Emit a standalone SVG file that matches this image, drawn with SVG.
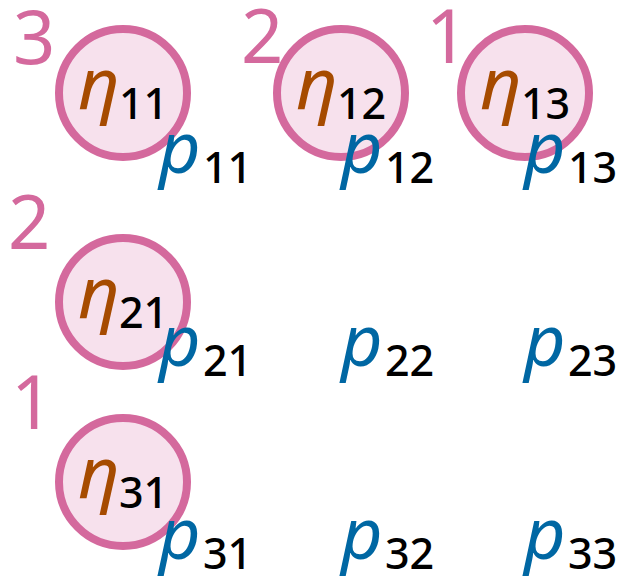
<svg xmlns="http://www.w3.org/2000/svg" width="621" height="580" viewBox="0 0 621 580">
<style>
text{font-family:"Noto Sans","Open Sans",sans-serif}
.c{fill:#f7e1ed;stroke:#d4699d;stroke-width:8}
.eta{font-style:italic;font-size:72px;fill:#a64b00}
.p{font-style:italic;font-size:72px;fill:#0067a3}
.s{font-size:43px;font-weight:500;fill:#000}
.n{font-size:74px;fill:#d4699d}
</style>
<g id="numbers">
<text class="n" x="13" y="64">3</text>
<text class="n" x="241" y="63">2</text>
<text class="n" x="426" y="63">1</text>
<text class="n" x="8" y="249">2</text>
<text class="n" x="11" y="429">1</text>
</g>
<g id="connectors"></g>
<g id="n11"><circle class="c" cx="123" cy="93" r="64"/><text class="eta" x="78" y="109">η</text><text class="s" x="119" y="119">11</text></g>
<g id="n12"><circle class="c" cx="341" cy="93" r="64"/><text class="eta" x="296" y="109">η</text><text class="s" x="337" y="119">12</text></g>
<g id="n13"><circle class="c" cx="525" cy="93" r="64"/><text class="eta" x="480" y="109">η</text><text class="s" x="521" y="119">13</text></g>
<g id="n21"><circle class="c" cx="123" cy="302" r="64"/><text class="eta" x="78" y="318">η</text><text class="s" x="119" y="328">21</text></g>
<g id="n31"><circle class="c" cx="123" cy="482" r="64"/><text class="eta" x="78" y="498">η</text><text class="s" x="119" y="508">31</text></g>
<g id="p11"><text class="p" x="159" y="173">p</text><text class="s" x="203" y="183">11</text></g>
<g id="p12"><text class="p" x="341" y="173">p</text><text class="s" x="385" y="183">12</text></g>
<g id="p13"><text class="p" x="524" y="173">p</text><text class="s" x="568" y="183">13</text></g>
<g id="p21"><text class="p" x="159" y="366">p</text><text class="s" x="203" y="376">21</text></g>
<g id="p22"><text class="p" x="341" y="366">p</text><text class="s" x="385" y="376">22</text></g>
<g id="p23"><text class="p" x="524" y="366">p</text><text class="s" x="568" y="376">23</text></g>
<g id="p31"><text class="p" x="159" y="559">p</text><text class="s" x="203" y="569">31</text></g>
<g id="p32"><text class="p" x="341" y="559">p</text><text class="s" x="385" y="569">32</text></g>
<g id="p33"><text class="p" x="524" y="559">p</text><text class="s" x="568" y="569">33</text></g>
</svg>
